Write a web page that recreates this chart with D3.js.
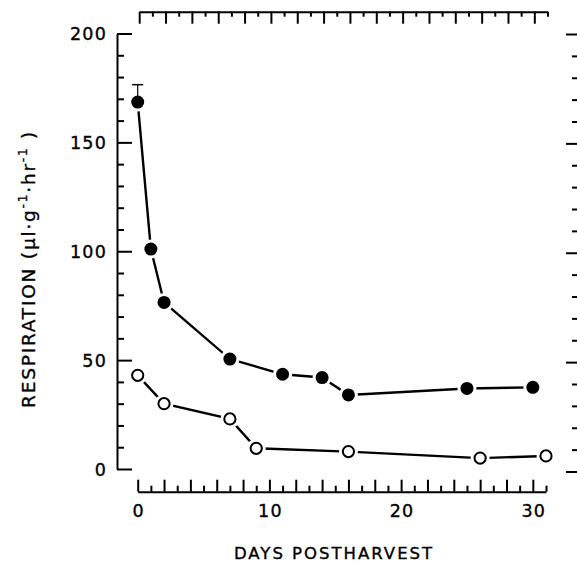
<!DOCTYPE html>
<html>
<head>
<meta charset="utf-8">
<script src="https://cdn.jsdelivr.net/npm/d3@7"></script>
<style>
  body { margin: 0; background: #fff; }
  svg { display: block; }
  text { font-family: "DejaVu Sans", sans-serif; fill: #000; stroke: #000; stroke-width: 0.35; }
</style>
</head>
<body>
<div id="chart"></div>
<script>
// days after harvest and respiration values
const daysFilled = [0, 1, 2, 7, 11, 14, 16, 25, 30];
const respFilled = [168.5, 101, 76.5, 50.5, 43.5, 42, 34, 37, 37.5];
const errFilled = [8, 0, 0, 0, 0, 0, 0, 0, 0];

const daysOpen = [0, 2, 7, 9, 16, 26, 31];
const respOpen = [43, 30, 23, 9.5, 8, 5, 6];

const yTickLabels = [0, 50, 100, 150, 200];
const xTickLabels = [0, 10, 20, 30];

const width = 577;
const height = 565;

const svg = d3.select('#chart')
  .append('svg')
  .attr('width', width)
  .attr('height', height);

const x = d3.scaleLinear().domain([0, 31]).range([137.7, 546]);
const y = d3.scaleLinear().domain([0, 200]).range([469, 33.5]);
const yRight = d3.scaleLinear().domain([0, 200]).range([471.5, 34]);

const dayTicks = d3.range(0, 32);
const evenDays = dayTicks.filter(d => d % 2 === 0);
const oddDays = dayTicks.filter(d => d % 2 === 1);
const minorY = d3.range(0, 201, 10).filter(v => v % 50 !== 0);

function styleAxis(g) {
  g.selectAll('path, line').attr('stroke', '#000').attr('stroke-width', 2);
  g.selectAll('text').remove();
}

// left axis, ticks pointing inward
svg.append('g')
  .attr('transform', 'translate(117,0)')
  .call(d3.axisRight(y).tickValues(yTickLabels).tickSize(15).tickSizeOuter(0))
  .call(styleAxis);
svg.append('g')
  .attr('transform', 'translate(117,0)')
  .call(d3.axisRight(y).tickValues(minorY).tickSize(7).tickSizeOuter(0))
  .call(styleAxis)
  .call(g => g.select('.domain').remove());

// left tick labels
svg.append('g')
  .selectAll('text')
  .data(yTickLabels)
  .join('text')
    .attr('x', 107)
    .attr('y', d => y(d) + 6.5)
    .attr('text-anchor', 'end')
    .attr('font-size', 17.5)
    .attr('letter-spacing', 1.2)
    .text(d => d);

// right axis, ticks pointing inward (axis line falls just off the page)
svg.append('g')
  .attr('transform', 'translate(578,0)')
  .call(d3.axisLeft(yRight).tickValues(yTickLabels).tickSize(12).tickSizeOuter(0))
  .call(styleAxis);
svg.append('g')
  .attr('transform', 'translate(578,0)')
  .call(d3.axisLeft(yRight).tickValues(minorY).tickSize(6).tickSizeOuter(0))
  .call(styleAxis)
  .call(g => g.select('.domain').remove());

// top axis
svg.append('g')
  .attr('transform', 'translate(1.5,11.7)')
  .call(d3.axisBottom(x).tickValues(evenDays).tickSize(12).tickSizeOuter(0))
  .call(styleAxis);
svg.append('g')
  .attr('transform', 'translate(1.5,11.7)')
  .call(d3.axisBottom(x).tickValues(oddDays).tickSize(5).tickSizeOuter(0))
  .call(styleAxis)
  .call(g => g.select('.domain').remove());

// bottom axis
svg.append('g')
  .attr('transform', 'translate(0,491.7)')
  .call(d3.axisTop(x).tickValues(evenDays).tickSize(12).tickSizeOuter(0))
  .call(styleAxis);
svg.append('g')
  .attr('transform', 'translate(0,491.7)')
  .call(d3.axisTop(x).tickValues(oddDays).tickSize(6).tickSizeOuter(0))
  .call(styleAxis)
  .call(g => g.select('.domain').remove());

svg.append('g')
  .selectAll('text')
  .data(xTickLabels)
  .join('text')
    .attr('x', d => x(d) + 1)
    .attr('y', 517)
    .attr('text-anchor', 'middle')
    .attr('font-size', 17.5)
    .attr('letter-spacing', 1.2)
    .text(d => d);

// axis titles
svg.append('text')
  .attr('x', 334)
  .attr('y', 559)
  .attr('text-anchor', 'middle')
  .attr('font-size', 16.5)
  .attr('letter-spacing', 2)
  .text('DAYS POSTHARVEST');

const yTitle = svg.append('text')
  .attr('transform', 'translate(35,408) rotate(-90)')
  .attr('font-size', 18.5)
  .attr('letter-spacing', 1.8);
yTitle.append('tspan').text('RESPIRATION (\u00b5l\u00b7g');
yTitle.append('tspan').attr('dy', -8).attr('font-size', 12).text('-1');
yTitle.append('tspan').attr('dy', 8).text('\u00b7hr');
yTitle.append('tspan').attr('dy', -8).attr('font-size', 12).text('-1');
yTitle.append('tspan').attr('dy', 8).text(' )');

// series
const filled = daysFilled.map((d, i) => ({ day: d, v: respFilled[i], err: errFilled[i] }));
const open = daysOpen.map((d, i) => ({ day: d, v: respOpen[i] }));

const line = d3.line().x(d => x(d.day)).y(d => y(d.v));

[filled, open].forEach(s => {
  svg.append('path')
    .datum(s)
    .attr('fill', 'none')
    .attr('stroke', '#000')
    .attr('stroke-width', 2.4)
    .attr('d', line);
});

// white halos leave the small gap between line and marker
svg.append('g')
  .selectAll('circle')
  .data(filled.concat(open))
  .join('circle')
    .attr('cx', d => x(d.day))
    .attr('cy', d => y(d.v))
    .attr('r', 9.5)
    .attr('fill', '#fff');

// error bar
const errs = filled.filter(d => d.err > 0);
svg.append('g')
  .selectAll('line')
  .data(errs)
  .join('line')
    .attr('x1', d => x(d.day)).attr('x2', d => x(d.day))
    .attr('y1', d => y(d.v) - 5)
    .attr('y2', d => y(d.v + d.err))
    .attr('stroke', '#000').attr('stroke-width', 1.2);
svg.append('g')
  .selectAll('line')
  .data(errs)
  .join('line')
    .attr('x1', d => x(d.day) - 5.5).attr('x2', d => x(d.day) + 5.5)
    .attr('y1', d => y(d.v + d.err))
    .attr('y2', d => y(d.v + d.err))
    .attr('stroke', '#000').attr('stroke-width', 1.5);

svg.append('g')
  .selectAll('circle')
  .data(filled)
  .join('circle')
    .attr('cx', d => x(d.day))
    .attr('cy', d => y(d.v))
    .attr('r', 6.5)
    .attr('fill', '#000');

svg.append('g')
  .selectAll('circle')
  .data(open)
  .join('circle')
    .attr('cx', d => x(d.day))
    .attr('cy', d => y(d.v))
    .attr('r', 5.6)
    .attr('fill', '#fff')
    .attr('stroke', '#000')
    .attr('stroke-width', 2);
</script>
</body>
</html>
